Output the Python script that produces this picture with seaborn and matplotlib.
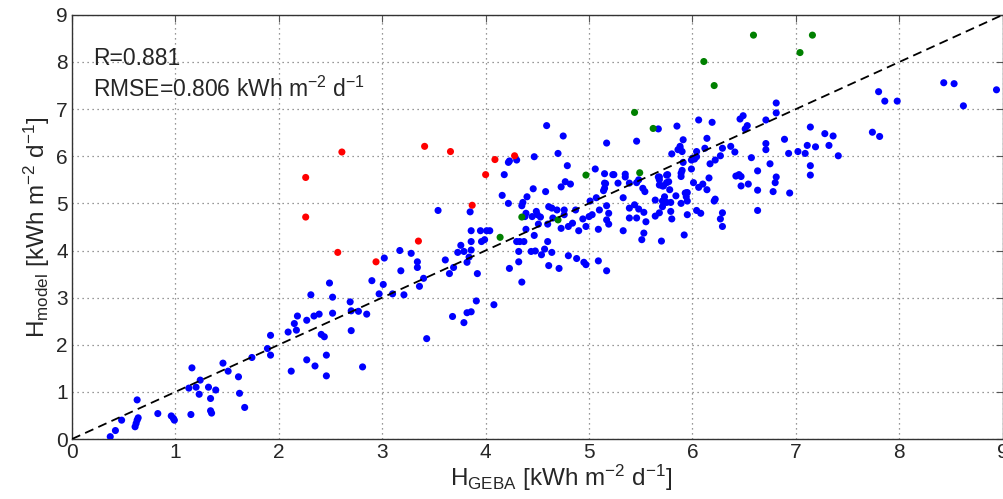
"""
Scatter: modelled vs GEBA daily irradiation
"""
import numpy as np
import pandas as pd
import matplotlib
matplotlib.use("Agg")
import matplotlib.pyplot as plt
import seaborn as sns

# --- data ---
BLUE_PTS = [
    (0.37, 0.05), (0.42, 0.18), (0.48, 0.40), (0.61, 0.26), (0.62, 0.33), (0.63, 0.40), (0.64, 0.45),
    (0.63, 0.83), (0.83, 0.54), (0.96, 0.49), (0.99, 0.40), (0.98, 0.44), (1.13, 1.08), (1.16, 1.51),
    (1.15, 0.52), (1.20, 1.10), (1.24, 1.25), (1.23, 0.95), (1.32, 1.10), (1.34, 0.86), (1.34, 0.60),
    (1.35, 0.55), (1.39, 1.04), (1.46, 1.61), (1.51, 1.44), (1.61, 1.32), (1.62, 0.97), (1.67, 0.67),
    (1.74, 1.73), (1.89, 1.92), (1.92, 2.20), (1.92, 1.78), (2.09, 2.27), (2.12, 1.44), (2.15, 2.45),
    (2.17, 2.31), (2.18, 2.61), (2.27, 1.68), (2.27, 2.52), (2.31, 3.06), (2.34, 2.61), (2.35, 1.55),
    (2.39, 2.65), (2.41, 2.22), (2.44, 2.17), (2.46, 1.78), (2.46, 1.34), (2.49, 3.31), (2.52, 3.01),
    (2.52, 2.67), (2.69, 2.91), (2.70, 2.72), (2.70, 2.30), (2.77, 2.71), (2.81, 1.53), (2.85, 2.65),
    (2.90, 3.36), (2.97, 3.08),
    (3.01, 3.28), (3.10, 3.08), (3.21, 3.06), (3.36, 3.24), (3.40, 3.41), (3.18, 3.57), (3.02, 3.84),
    (3.17, 4.00), (3.28, 3.94), (3.34, 3.76), (3.34, 3.64), (3.61, 3.80), (3.65, 3.51), (3.69, 3.64),
    (3.73, 3.96), (3.76, 4.11), (3.79, 3.98), (3.84, 3.86), (3.82, 3.75), (3.86, 4.01), (3.92, 3.51),
    (3.91, 2.93), (4.08, 2.85), (3.43, 2.13), (3.68, 2.60), (3.79, 2.47), (3.82, 2.68), (3.86, 2.70),
    (3.86, 4.42), (3.95, 4.42), (4.01, 4.42), (4.04, 4.42), (3.86, 4.19), (3.96, 4.19), (3.99, 4.23),
    (4.23, 3.62), (4.30, 4.19), (4.33, 4.19), (4.37, 4.19), (4.32, 3.76), (4.35, 3.33), (4.32, 3.98),
    (3.54, 4.85), (3.85, 4.82), (4.23, 5.90), (4.22, 5.87), (4.30, 5.92), (4.18, 5.61), (4.16, 5.17),
    (4.22, 5.00),
    (4.47, 5.99), (4.59, 6.65), (4.75, 6.43), (4.70, 6.06), (4.79, 5.80), (4.77, 5.46), (4.82, 5.41),
    (4.73, 5.35), (4.46, 5.31), (4.58, 5.25), (4.40, 5.14), (4.36, 5.02), (4.35, 4.95), (4.39, 4.79),
    (4.38, 4.72), (4.45, 4.72), (4.49, 4.83), (4.50, 4.76), (4.53, 4.71), (4.61, 4.93), (4.64, 4.90),
    (4.69, 4.86), (4.76, 4.86), (4.87, 4.86), (4.65, 4.69), (4.76, 4.76), (4.80, 4.51), (4.84, 4.58),
    (4.73, 4.47), (4.60, 4.56), (4.51, 4.56), (4.39, 4.45), (4.47, 4.32), (4.60, 4.19), (4.90, 4.42),
    (4.94, 4.67), (4.97, 4.51), (5.00, 4.72), (5.03, 4.76), (5.01, 5.05), (5.07, 5.12), (5.06, 5.73),
    (5.15, 5.63), (5.15, 5.43), (5.15, 5.32), (5.23, 5.61), (5.28, 5.43), (5.17, 4.95), (5.19, 4.79),
    (5.17, 4.65), (5.19, 4.56), (5.09, 4.45), (5.10, 4.86),
    (4.44, 3.98), (4.48, 3.99), (4.54, 3.91), (4.57, 4.03), (4.64, 3.96), (4.61, 3.68), (4.71, 3.62),
    (4.80, 3.89), (4.88, 3.83), (4.95, 3.75), (4.97, 3.70), (5.09, 3.78), (5.17, 3.57),
    (5.33, 4.42), (5.33, 5.12), (5.35, 5.62), (5.35, 5.56), (5.39, 5.43), (5.39, 4.90), (5.44, 4.97),
    (5.48, 4.88), (5.39, 4.69), (5.46, 4.69), (5.53, 4.81), (5.55, 4.61), (5.64, 4.73), (5.68, 4.80),
    (5.71, 4.93), (5.64, 5.07), (5.53, 4.37), (5.51, 4.23), (5.70, 4.20), (5.92, 4.33), (5.17, 6.28),
    (5.46, 6.32), (5.67, 6.58), (5.85, 6.64), (5.91, 6.35), (5.88, 6.17), (5.86, 6.14), (5.90, 6.10),
    (5.80, 6.05), (5.48, 5.50), (5.52, 5.32), (5.54, 5.25), (5.68, 5.39), (5.75, 5.44), (5.78, 5.29),
    (5.73, 5.14), (5.79, 5.02), (5.89, 5.00), (5.94, 5.22), (5.94, 5.14), (5.67, 5.56), (5.76, 5.61),
    (5.89, 5.64), (5.95, 4.76), (5.24, 5.61), (5.16, 5.42), (5.46, 5.44), (5.14, 5.27), (5.68, 5.56),
    (5.71, 5.37), (5.79, 4.83), (5.80, 4.67), (5.71, 5.05), (5.75, 5.02), (5.95, 5.05), (5.84, 5.16),
    (5.75, 5.60), (5.72, 5.37), (5.77, 5.46), (5.90, 5.70), (5.89, 5.57), (5.99, 5.73), (6.00, 5.96),
    (5.99, 5.92), (6.02, 5.94), (6.04, 5.99), (5.68, 5.50), (5.91, 5.87), (5.88, 6.21), (6.04, 6.10),
    (8.43, 7.56), (8.53, 7.54), (8.94, 7.41), (8.62, 7.07), (7.80, 7.37), (7.86, 7.17), (7.98, 7.17),
    (7.74, 6.51), (7.81, 6.42), (7.14, 6.62), (7.28, 6.48), (7.36, 6.43), (7.11, 6.23), (7.19, 6.20),
    (7.32, 6.23), (7.02, 6.10), (7.09, 6.06), (6.93, 6.06), (7.41, 6.01), (7.14, 5.80), (7.14, 5.60),
    (6.94, 5.22), (6.89, 6.36), (6.81, 7.13), (6.81, 6.92), (6.71, 6.77), (6.71, 6.27), (6.71, 6.14),
    (6.75, 5.84), (6.81, 5.56), (6.80, 5.44), (6.78, 5.25), (6.63, 5.69), (6.63, 5.28), (6.63, 4.85),
    (6.57, 5.97), (6.54, 5.41), (6.46, 6.79), (6.49, 6.86), (6.53, 6.65), (6.51, 6.58), (6.37, 6.21),
    (6.41, 6.09), (6.42, 5.58), (6.45, 5.61), (6.47, 5.57), (6.47, 5.37), (6.29, 6.17), (6.27, 6.01),
    (6.22, 5.92), (6.17, 5.84), (6.16, 5.54), (6.14, 6.38), (6.19, 6.72), (6.06, 6.77), (6.12, 6.17),
    (6.22, 5.09), (6.21, 5.05), (6.29, 4.80), (6.27, 4.67), (6.29, 4.51), (6.14, 5.29), (6.10, 5.41),
    (6.06, 5.34), (6.01, 5.44), (6.04, 4.85), (6.08, 4.79), (5.95, 5.23), (5.93, 5.22),
]
RED_PTS = [
    (2.26, 5.55), (2.26, 4.71), (2.61, 6.09), (2.57, 3.96), (2.94, 3.76), (3.35, 4.20),
    (3.41, 6.21), (3.66, 6.10), (3.87, 4.96), (4.00, 5.61), (4.09, 5.93), (4.28, 6.01),
]
GREEN_PTS = [
    (4.14, 4.28), (4.35, 4.71), (4.70, 4.65), (4.97, 5.60), (5.44, 6.93), (5.49, 5.65),
    (5.62, 6.59), (6.11, 8.01), (6.21, 7.50), (6.59, 8.57), (7.04, 8.20), (7.16, 8.57),
]
GROUP_COLORS = {"blue": "#0000FF", "red": "#FF0000", "green": "#008000"}
AXIS_LIM = [0, 9]
R_VALUE = 0.881
RMSE_VALUE = 0.806


def to_frame():
    parts = []
    for name, pts in [("blue", BLUE_PTS), ("red", RED_PTS), ("green", GREEN_PTS)]:
        xs, ys = zip(*pts)
        parts.append(pd.DataFrame({"geba": xs, "model": ys, "group": name}))
    return pd.concat(parts, ignore_index=True)


def main():
    df = to_frame()

    sns.set_style("white")
    plt.rcParams["font.family"] = ["Liberation Sans", "DejaVu Sans"]
    plt.rcParams["mathtext.fontset"] = "custom"
    plt.rcParams["mathtext.rm"] = "Liberation Sans"
    plt.rcParams["mathtext.it"] = "Liberation Sans:italic"

    fig = plt.figure(figsize=(10.04, 4.99), dpi=100)
    ax = fig.add_axes([0.0717, 0.1202, 0.927, 0.850])

    sns.scatterplot(data=df, x="geba", y="model", hue="group", palette=GROUP_COLORS,
                    s=26, linewidth=0, legend=False, ax=ax, zorder=3)
    ax.plot(AXIS_LIM, AXIS_LIM, color="black", linestyle=(0, (5, 3)), linewidth=1.3, zorder=4)

    ax.set_xlim(AXIS_LIM)
    ax.set_ylim(AXIS_LIM)
    ax.set_xticks(np.arange(0, 10))
    ax.set_yticks(np.arange(0, 10))
    ax.tick_params(direction="in", length=5, labelsize=15, top=True, right=True,
                   color="#555555", pad=3)
    ax.grid(True, linestyle=(0, (1, 3)), color="#777777", linewidth=0.9)
    for sp in ax.spines.values():
        sp.set_color("#333333")
        sp.set_linewidth(1.0)

    ax.set_xlabel(r"H$_{\mathrm{GEBA}}$ [kWh m$^{-2}$ d$^{-1}$]", fontsize=17.5, labelpad=0)
    ax.xaxis.set_label_coords(0.525, -0.055, transform=ax.transAxes)
    ax.xaxis.label.set_va("top")
    ax.set_ylabel(r"H$_{\mathrm{model}}$ [kWh m$^{-2}$ d$^{-1}$]", fontsize=17.5, labelpad=3)

    ax.text(0.2, 8.08, f"R={R_VALUE:.3f}", fontsize=16.5, va="center", ha="left", zorder=5)
    ax.text(0.2, 7.42, f"RMSE={RMSE_VALUE:.3f} kWh m$^{{-2}}$ d$^{{-1}}$", fontsize=16.5,
            va="center", ha="left", zorder=5)

    fig.savefig("out.png", dpi=100)
    plt.close(fig)


if __name__ == "__main__":
    main()
